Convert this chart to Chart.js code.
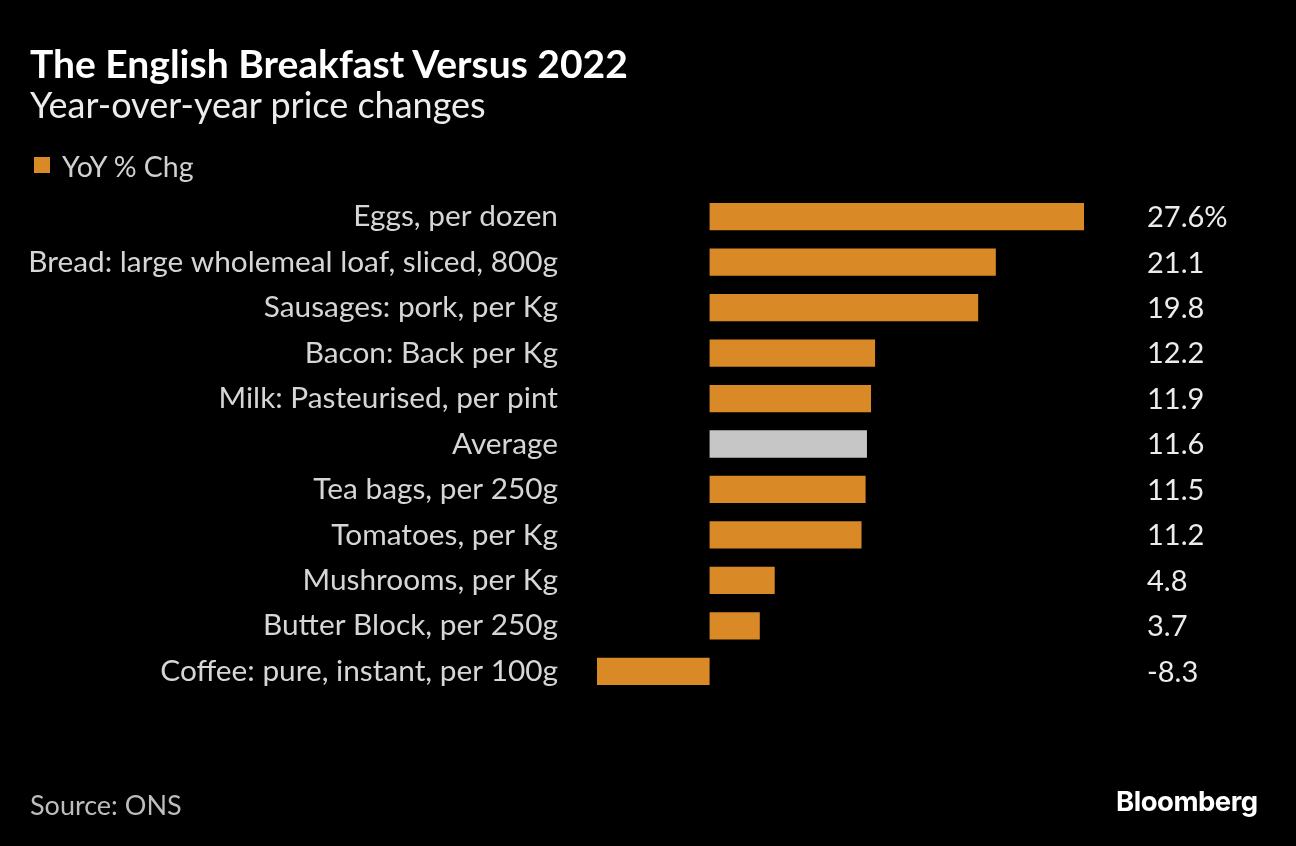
<!DOCTYPE html>
<html>
<head>
<meta charset="utf-8">
<script src="https://cdn.jsdelivr.net/npm/chart.js@4"></script>
<style>
  html, body { margin: 0; padding: 0; background: #000; }
  body { width: 1296px; height: 846px; position: relative; overflow: hidden; font-family: Lato, sans-serif; }
  #wrap { position: absolute; left: 0; top: 0; width: 1296px; height: 846px; }
  .txt { position: absolute; white-space: nowrap; line-height: 1.2; }
  #title { left: 30px; top: 40px; font-size: 39px; font-weight: bold; color: #fff; }
  #subtitle { left: 30px; top: 83px; font-size: 36px; color: #ececec; }
  #legendBox { position: absolute; left: 34px; top: 157px; width: 16px; height: 16px; background: #d98a26; }
  #legend { left: 62px; top: 149px; font-size: 28.5px; color: #d0d0d0; }
  #source { left: 30px; top: 789px; font-size: 27px; color: #bdbdbd; }
  #logo { left: 1116px; top: 785px; font-size: 27.5px; font-weight: bold; color: #fff; font-family: Inter, sans-serif; letter-spacing: -0.5px; }
</style>
</head>
<body>
<div id="wrap"><canvas id="barChart" width="1296" height="846"></canvas></div>
<div class="txt" id="title">The English Breakfast Versus 2022</div>
<div class="txt" id="subtitle">Year-over-year price changes</div>
<div id="legendBox"></div>
<div class="txt" id="legend">YoY % Chg</div>
<div class="txt" id="source">Source: ONS</div>
<div class="txt" id="logo">Bloomberg</div>
<script>
const categories = ['Eggs, per dozen', 'Bread: large wholemeal loaf, sliced, 800g', 'Sausages: pork, per Kg',
  'Bacon: Back per Kg', 'Milk: Pasteurised, per pint', 'Average', 'Tea bags, per 250g',
  'Tomatoes, per Kg', 'Mushrooms, per Kg', 'Butter Block, per 250g', 'Coffee: pure, instant, per 100g'];
const yoyChange = [27.6, 21.1, 19.8, 12.2, 11.9, 11.6, 11.5, 11.2, 4.8, 3.7, -8.3];

const orange = '#d98a26';
const grey = '#c6c6c6';
const barColors = categories.map(c => c === 'Average' ? grey : orange);

// value labels on the right side
const valueLabels = {
  id: 'valueLabels',
  afterDatasetsDraw(chart) {
    const ctx = chart.ctx;
    const meta = chart.getDatasetMeta(0);
    ctx.save();
    ctx.font = '29px Lato, sans-serif';
    ctx.fillStyle = '#ececec';
    ctx.textAlign = 'left';
    ctx.textBaseline = 'middle';
    meta.data.forEach((bar, i) => {
      let s = yoyChange[i].toFixed(1);
      if (i === 0) s += '%';
      ctx.fillText(s, 1147, bar.y + 1);
    });
    ctx.restore();
  }
};

const ctx = document.getElementById('barChart').getContext('2d');
const barChart = new Chart(ctx, {
  type: 'bar',
  data: {
    labels: categories,
    datasets: [{
      label: 'YoY % Chg',
      data: yoyChange,
      backgroundColor: barColors,
      borderWidth: 0,
      barPercentage: 0.6,
      categoryPercentage: 1.0
    }]
  },
  options: {
    indexAxis: 'y',
    responsive: false,
    animation: false,
    layout: { padding: { top: 194, bottom: 152, right: 212, left: 0 } },
    plugins: { legend: { display: false }, tooltip: { enabled: false } },
    scales: {
      x: { display: false, min: -8.3, max: 27.6 },
      y: {
        grid: { display: false, drawTicks: false },
        border: { display: false },
        ticks: { color: '#d6d6d6', font: { family: 'Lato', size: 29.8 }, padding: 39 },
        afterFit: s => { s.width = 597; }
      }
    }
  },
  plugins: [valueLabels]
});
</script>
</body>
</html>
